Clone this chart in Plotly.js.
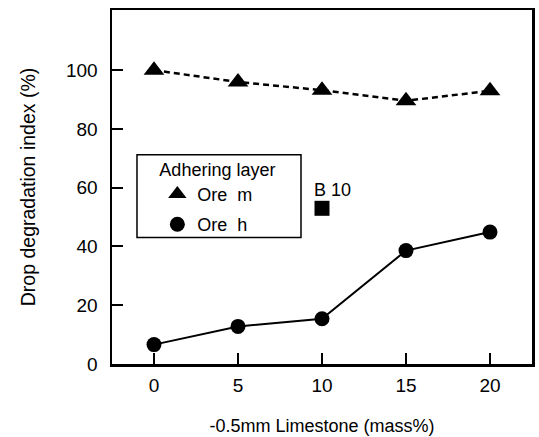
<!DOCTYPE html>
<html>
<head>
<meta charset="utf-8">
<script src="https://cdn.plot.ly/plotly-3.0.1.min.js"></script>
<style>html,body{margin:0;padding:0;background:#fff;}#chart{width:539px;height:437px;}</style>
</head>
<body>
<div id="chart"></div>
<script>
const limestone = [0, 5, 10, 15, 20];
const oreM = [100, 96, 93.2, 89.6, 93];
const oreH = [6.6, 12.8, 15.4, 38.6, 44.9];
const b10X = [10];
const b10Y = [53];
const b10Label = "B 10";
const xTicks = [0, 5, 10, 15, 20];
const yTicks = [0, 20, 40, 60, 80, 100];

const FONT = "Liberation Sans, Arial, sans-serif";

const traces = [
  {x: limestone, y: oreM, mode: 'lines', line: {color: '#000', width: 2.5, dash: '6px,4px'}, showlegend: false, hoverinfo: 'skip'},
  {x: limestone, y: oreH, mode: 'lines', line: {color: '#000', width: 2}, showlegend: false, hoverinfo: 'skip'},
  {x: limestone, y: oreM, mode: 'markers', name: 'Ore\u00a0 m', legendgroup: 'm', marker: {symbol: 'triangle-up', size: 18, color: '#000'}},
  {x: limestone, y: oreH, mode: 'markers', name: 'Ore\u00a0 h', legendgroup: 'h', marker: {symbol: 'circle', size: 15, color: '#000'}},
  {x: b10X, y: b10Y, mode: 'markers', name: b10Label, showlegend: false, marker: {symbol: 'square', size: 15, color: '#000'}}
];

const layout = {
  width: 539, height: 437,
  margin: {l: 112, r: 7, t: 10, b: 72.5},
  paper_bgcolor: '#fff', plot_bgcolor: '#fff',
  font: {family: FONT, color: '#000', size: 18},
  showlegend: true,
  legend: {
    x: 0.108, y: 0.598, xanchor: 'left', yanchor: 'top',
    borderwidth: 0, bgcolor: 'rgba(0,0,0,0)',
    title: {text: 'Adhering layer', font: {size: 18}},
    font: {size: 18},
    tracegroupgap: 4, itemwidth: 30
  },
  shapes: [
    {type: 'rect', xref: 'paper', yref: 'paper', x0: 0.0595, x1: 0.45, y0: 0.357, y1: 0.591,
     line: {color: '#000', width: 1.5}, fillcolor: 'rgba(0,0,0,0)', layer: 'above'}
  ],
  xaxis: {
    range: [-2.5, 22.5], tickvals: xTicks, ticktext: xTicks.map(String),
    ticks: 'inside', ticklen: 11, tickwidth: 2, tickcolor: '#000',
    showgrid: false, zeroline: false, showline: true, linewidth: 2.5, linecolor: '#000', mirror: true,
    tickfont: {size: 19}, ticklabelstandoff: 3,
    title: {text: '-0.5mm Limestone (mass%)', font: {size: 18}, standoff: 24}
  },
  yaxis: {
    range: [0, 120.5], tickvals: yTicks, ticktext: yTicks.map(String),
    ticks: 'inside', ticklen: 11, tickwidth: 2, tickcolor: '#000',
    showgrid: false, zeroline: false, showline: true, linewidth: 2.5, linecolor: '#000', mirror: true,
    tickfont: {size: 19}, ticklabelstandoff: 8,
    title: {text: 'Drop degradation index (%)', font: {size: 19.5}, standoff: 25}
  },
  annotations: [
    {x: 9.42, y: 59.3, xref: 'x', yref: 'y', xanchor: 'left', yanchor: 'middle', text: b10Label, showarrow: false, font: {size: 18}}
  ]
};

Plotly.newPlot('chart', traces, layout, {displayModeBar: false, staticPlot: true});
</script>
</body>
</html>
